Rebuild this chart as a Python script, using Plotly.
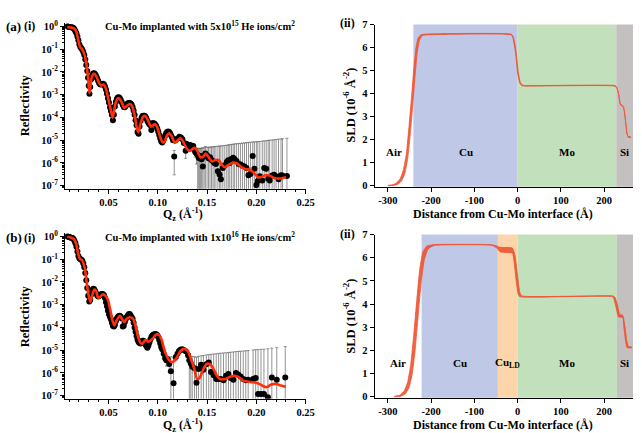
import plotly.graph_objects as go

# ---------------- Reflectivity (a): 5x10^15 ----------------
q_a_low = [0.0085, 0.0095, 0.0105, 0.0115, 0.0125, 0.0135, 0.0145, 0.0155, 0.0165, 0.0175,
           0.0185, 0.0195, 0.0205, 0.0215, 0.0225, 0.0235, 0.0245, 0.0255, 0.0265, 0.0275,
           0.0285, 0.0293, 0.0300, 0.0307, 0.0315, 0.0325, 0.0335, 0.0345, 0.0355, 0.0365,
           0.0375, 0.0385, 0.0395, 0.0405, 0.0415, 0.0425, 0.0435, 0.0445, 0.0455, 0.0465,
           0.0475, 0.0485, 0.0495, 0.0505, 0.0515, 0.0525, 0.0535, 0.0545, 0.0555, 0.0565,
           0.0575, 0.0585, 0.0595, 0.0605, 0.0615, 0.0625, 0.0635, 0.0645, 0.0655, 0.0665,
           0.0675, 0.0685, 0.0695, 0.0705, 0.0715, 0.0725, 0.0735, 0.0745, 0.0755, 0.0765,
           0.0775, 0.0785, 0.0795, 0.0805, 0.0815, 0.0825, 0.0835, 0.0845, 0.0855, 0.0865,
           0.0875, 0.0885, 0.0895, 0.0905, 0.0915, 0.0925, 0.0935, 0.0945, 0.0955, 0.0965,
           0.0975, 0.0985, 0.0995, 0.1005, 0.1015, 0.1025, 0.1035, 0.1045, 0.1055, 0.1065,
           0.1075, 0.1085, 0.1095, 0.1105, 0.1115, 0.1125, 0.1135, 0.1145, 0.1155]
r_a_low = [1.0, 0.98, 0.95, 0.93, 0.92, 0.90, 0.85, 0.75, 0.62, 0.50,
           0.36, 0.25, 0.16, 0.125, 0.11, 0.095, 0.075, 0.055, 0.035, 0.020,
           0.011, 0.0055, 0.0025, 0.0011, 0.0022, 0.0048, 0.0072, 0.0085, 0.0088, 0.0080,
           0.0066, 0.0053, 0.0041, 0.0033, 0.0029, 0.0028, 0.0029, 0.0030, 0.0028, 0.0023,
           0.0017, 0.0011, 7.0e-4, 4.5e-4, 2.8e-4, 1.9e-4, 1.3e-4, 7.5e-5, 1.3e-4, 3.0e-4,
           4.8e-4, 6.5e-4, 7.6e-4, 7.8e-4, 7.0e-4, 5.8e-4, 4.6e-4, 3.6e-4, 2.9e-4, 2.8e-4,
           3.2e-4, 3.7e-4, 4.1e-4, 4.3e-4, 4.3e-4, 4.1e-4, 3.6e-4, 2.9e-4, 2.0e-4, 1.3e-4,
           7.5e-5, 4.5e-5, 2.3e-5, 1.9e-5, 4.0e-5, 7.0e-5, 9.5e-5, 1.15e-4, 1.2e-4, 1.2e-4,
           1.1e-4, 9.0e-5, 7.0e-5, 5.8e-5, 5.0e-5, 4.5e-5, 2.8e-5, 5.5e-5, 5.6e-5, 5.4e-5,
           4.8e-5, 4.2e-5, 3.3e-5, 2.4e-5, 1.7e-5, 1.2e-5, 9.0e-6, 8.0e-6, 9.5e-6, 1.2e-5,
           1.6e-5, 2.0e-5, 2.3e-5, 2.4e-5, 2.3e-5, 2.0e-5, 1.6e-5, 1.3e-5, 1.0e-5]

q_a_tail = [0.1167, 0.1180, 0.1200, 0.1220, 0.1235, 0.1250, 0.1265, 0.1283, 0.1290, 0.1305,
            0.1320, 0.1330, 0.1340, 0.1350, 0.1360, 0.1370, 0.1380, 0.1393, 0.1405, 0.1415,
            0.1425, 0.1435, 0.1445, 0.1457, 0.1470, 0.1483, 0.1500, 0.1515, 0.1530, 0.1545,
            0.1560, 0.1573, 0.1590, 0.1610, 0.1627, 0.1640, 0.1660, 0.1680, 0.1700, 0.1715,
            0.1730, 0.1747, 0.1765, 0.1780, 0.1800, 0.1820, 0.1840, 0.1860, 0.1880, 0.1900,
            0.1920, 0.1940, 0.1963, 0.1980, 0.2000, 0.2015, 0.2035, 0.2060, 0.2080, 0.2100,
            0.2120, 0.2135, 0.2160, 0.2180, 0.2200, 0.2225, 0.2250, 0.2265, 0.2310]
r_a_tail = [1.9e-6, 1.0e-5, 1.2e-5, 1.4e-5, 1.3e-5, 1.1e-5, 7.5e-6, 3.4e-6, 7.0e-6, 6.0e-6,
            5.0e-6, 6.2e-6, 5.4e-6, 4.6e-6, 5.5e-6, 3.8e-6, 3.0e-6, 2.6e-6, 2.2e-6, 1.7e-6,
            1.6e-6, 2.0e-6, 1.45e-6, 7.0e-7, 1.9e-6, 2.6e-6, 2.2e-6, 1.6e-6, 1.8e-6, 1.35e-6,
            1.2e-6, 1.0e-6, 9.0e-7, 4.3e-7, 3.1e-7, 1.9e-7, 6.0e-7, 8.0e-7, 1.1e-6, 1.3e-6,
            1.0e-6, 1.5e-6, 1.7e-6, 1.45e-6, 1.2e-6, 9.0e-7, 8.5e-7, 7.5e-7, 7.0e-7, 6.0e-7,
            2.9e-7, 3.3e-7, 2.0e-6, 5.5e-7, 1.07e-7, 1.6e-7, 2.6e-7, 1.7e-7, 6.0e-7, 5.5e-7,
            2.0e-7, 1.7e-7, 2.8e-7, 3.0e-7, 2.6e-7, 1.9e-7, 2.9e-7, 2.8e-7, 2.7e-7]
e_a_tail = [1.6e-6, 1.0e-6, 1.0e-6, 1.2e-6, 1.2e-6, 1.0e-6, 1.0e-6, 1.8e-6, 1.2e-6, 1.0e-6,
            1.0e-6, 1.0e-6, 1.0e-6, 1.0e-6, 1.0e-6, 1.0e-6, 1.2e-6, 1.7e-6, 2.3e-6, 2.6e-6,
            2.7e-6, 2.4e-6, 3.0e-6, 3.9e-6, 2.8e-6, 2.7e-6, 2.6e-6, 3.3e-6, 3.2e-6, 3.7e-6,
            3.9e-6, 4.2e-6, 4.4e-6, 5.0e-6, 5.2e-6, 5.4e-6, 5.1e-6, 5.0e-6, 4.9e-6, 4.9e-6,
            5.3e-6, 5.0e-6, 5.0e-6, 5.4e-6, 5.8e-6, 6.2e-6, 6.4e-6, 6.7e-6, 6.9e-6, 7.2e-6,
            7.7e-6, 7.8e-6, 6.4e-6, 7.8e-6, 8.4e-6, 8.5e-6, 8.5e-6, 8.9e-6, 8.7e-6, 9.0e-6,
            9.6e-6, 9.8e-6, 9.9e-6, 1.01e-5, 1.05e-5, 1.09e-5, 1.11e-5, 1.13e-5, 1.18e-5]

fit_q_a = [0.0083, 0.0117, 0.0150, 0.0173, 0.0193, 0.0210, 0.0233, 0.0260, 0.0283, 0.0297,
           0.0307, 0.0317, 0.0333, 0.0357, 0.0380, 0.0407, 0.0427, 0.0450, 0.0473, 0.0500,
           0.0523, 0.0543, 0.0573, 0.0600, 0.0627, 0.0660, 0.0693, 0.0717, 0.0740, 0.0767,
           0.0790, 0.0803, 0.0820, 0.0850, 0.0873, 0.0900, 0.0933, 0.0967, 0.0993, 0.1020,
           0.1047, 0.1067, 0.1093, 0.1117, 0.1143, 0.1173, 0.1207, 0.1233, 0.1260, 0.1293,
           0.1327, 0.1350, 0.1373, 0.1400, 0.1433, 0.1460, 0.1487, 0.1517, 0.1550, 0.1583,
           0.1617, 0.1650, 0.1683, 0.1717, 0.1767, 0.1800, 0.1833, 0.1883, 0.1933, 0.1983,
           0.2017, 0.2050, 0.2083, 0.2133, 0.2183, 0.2233, 0.2300]
fit_r_a = [0.935, 0.906, 0.82, 0.61, 0.267, 0.13, 0.0995, 0.0515, 0.0138, 3.7e-3,
           1.16e-3, 2.25e-3, 6.5e-3, 8.4e-3, 6.0e-3, 3.13e-3, 2.48e-3, 2.83e-3, 1.9e-3, 6.0e-4,
           2.24e-4, 9.8e-5, 4.3e-4, 7.1e-4, 5.45e-4, 2.64e-4, 3.44e-4, 3.92e-4, 3.11e-4, 1.16e-4,
           3.1e-5, 2.23e-5, 4.3e-5, 1.05e-4, 1.16e-4, 7.55e-5, 3.9e-5, 5.08e-5, 3.9e-5, 1.6e-5,
           8.3e-6, 8.3e-6, 1.6e-5, 2.02e-5, 1.45e-5, 7.5e-6, 1.04e-5, 1.23e-5, 8.3e-6, 4.3e-6,
           3.4e-6, 4.0e-6, 4.6e-6, 3.4e-6, 1.76e-6, 1.88e-6, 2.6e-6, 1.76e-6, 1.15e-6, 1.35e-6,
           1.35e-6, 8.2e-7, 6.5e-7, 8.2e-7, 1.04e-6, 9.7e-7, 7.5e-7, 5.4e-7, 5.0e-7, 3.4e-7,
           2.3e-7, 2.4e-7, 2.8e-7, 2.8e-7, 2.2e-7, 2.07e-7, 2.35e-7]

# ---------------- Reflectivity (b): 1x10^16 ----------------
q_b_low = [0.0085, 0.0095, 0.0105, 0.0115, 0.0125, 0.0135, 0.0145, 0.0155, 0.0165, 0.0175,
           0.0185, 0.0195, 0.0205, 0.0215, 0.0225, 0.0235, 0.0245, 0.0255, 0.0265, 0.0275,
           0.0285, 0.0295, 0.0305, 0.0315, 0.0325, 0.0335, 0.0345, 0.0355, 0.0365, 0.0375,
           0.0385, 0.0395, 0.0405, 0.0415, 0.0425, 0.0435, 0.0445, 0.0455, 0.0465, 0.0475,
           0.0485, 0.0495, 0.0505, 0.0515, 0.0525, 0.0535, 0.0545, 0.0555, 0.0565, 0.0575,
           0.0585, 0.0595, 0.0605, 0.0615, 0.0625, 0.0635, 0.0645, 0.0655, 0.0665, 0.0675,
           0.0685, 0.0695, 0.0705, 0.0715, 0.0725, 0.0735, 0.0745, 0.0755, 0.0765, 0.0775,
           0.0785, 0.0795, 0.0805, 0.0815, 0.0825, 0.0835, 0.0845, 0.0855, 0.0865, 0.0875,
           0.0885, 0.0895, 0.0905, 0.0915, 0.0925, 0.0935, 0.0945, 0.0955, 0.0965, 0.0975,
           0.0985, 0.0995, 0.1005, 0.1015, 0.1025, 0.1035]
r_b_low = [1.0, 0.97, 0.93, 0.90, 0.88, 0.85, 0.78, 0.65, 0.50, 0.35,
           0.22, 0.14, 0.11, 0.10, 0.095, 0.085, 0.065, 0.045, 0.025, 0.012,
           0.0055, 0.0025, 0.0014, 0.0016, 0.0028, 0.0042, 0.0050, 0.0048, 0.0040, 0.0032,
           0.0026, 0.0023, 0.0024, 0.0027, 0.0029, 0.0030, 0.0029, 0.0026, 0.0020, 0.0013,
           8.5e-4, 5.5e-4, 3.8e-4, 3.0e-4, 2.3e-4, 1.6e-4, 1.2e-4, 1.1e-4, 1.3e-4, 1.9e-4,
           2.5e-4, 2.9e-4, 3.2e-4, 3.3e-4, 3.0e-4, 2.5e-4, 1.1e-4, 1.2e-4, 1.7e-4, 2.3e-4,
           2.9e-4, 3.3e-4, 3.8e-4, 3.9e-4, 3.4e-4, 2.8e-4, 2.4e-4, 1.6e-4, 1.0e-4, 6.5e-5,
           4.2e-5, 2.9e-5, 2.3e-5, 2.1e-5, 2.0e-5, 2.3e-5, 2.6e-5, 2.6e-5, 2.3e-5, 1.9e-5,
           1.5e-5, 1.3e-5, 1.6e-5, 2.2e-5, 3.0e-5, 3.8e-5, 4.4e-5, 4.8e-5, 5.0e-5, 5.1e-5,
           5.0e-5, 4.6e-5, 3.8e-5, 2.8e-5, 2.0e-5, 1.4e-5]

q_b_tail = [0.1045, 0.1060, 0.1075, 0.1087, 0.1100, 0.1117, 0.1133, 0.1160, 0.1183, 0.1200,
            0.1215, 0.1230, 0.1245, 0.1260, 0.1283, 0.1307, 0.1320, 0.1335, 0.1350, 0.1373,
            0.1393, 0.1413, 0.1440, 0.1463, 0.1493, 0.1517, 0.1540, 0.1567, 0.1593, 0.1617,
            0.1640, 0.1667, 0.1693, 0.1717, 0.1740, 0.1767, 0.1793, 0.1817, 0.1840, 0.1867,
            0.1893, 0.1917, 0.1967, 0.1993, 0.2017, 0.2047, 0.2077, 0.2117, 0.2157, 0.2207,
            0.2293]
r_b_tail = [1.1e-5, 7.0e-6, 4.5e-6, 3.6e-6, 4.0e-6, 2.5e-6, 1.2e-6, 3.5e-7, 5.0e-6, 7.0e-6,
            9.0e-6, 1.05e-5, 1.1e-5, 1.05e-5, 9.0e-6, 6.0e-6, 3.6e-6, 2.6e-6, 1.9e-6, 1.6e-6,
            3.7e-7, 1.5e-6, 2.3e-6, 1.4e-6, 2.4e-6, 2.9e-6, 1.1e-6, 8.0e-7, 5.5e-7, 5.5e-7,
            5.5e-7, 4.8e-7, 7.5e-7, 9.0e-7, 6.0e-7, 5.0e-7, 1.0e-6, 8.5e-7, 7.0e-7, 5.5e-7,
            4.8e-7, 5.0e-7, 5.5e-7, 6.0e-7, 1.2e-7, 1.2e-7, 1.2e-7, 8.5e-8, 6.3e-7, 5.0e-7,
            6.3e-7]
e_b_tail = [1.0e-6, 1.0e-6, 1.0e-6, 1.6e-6, 1.2e-6, 1.4e-6, 4.0e-6, 4.3e-6, 1.5e-6, 1.5e-6,
            1.5e-6, 1.5e-6, 1.5e-6, 1.5e-6, 1.5e-6, 1.5e-6, 3.6e-6, 2.9e-6, 3.3e-6, 3.6e-6,
            4.6e-6, 3.9e-6, 3.4e-6, 4.5e-6, 3.8e-6, 3.5e-6, 5.5e-6, 6.0e-6, 6.4e-6, 6.7e-6,
            6.9e-6, 7.1e-6, 7.0e-6, 7.0e-6, 7.6e-6, 7.9e-6, 7.7e-6, 8.0e-6, 8.4e-6, 8.7e-6,
            9.0e-6, 9.2e-6, 9.7e-6, 9.9e-6, 1.05e-5, 1.08e-5, 1.1e-5, 1.15e-5, 1.17e-5, 1.25e-5,
            1.38e-5]

fit_q_b = [0.0083, 0.0117, 0.0150, 0.0173, 0.0193, 0.0210, 0.0233, 0.0260, 0.0280, 0.0300,
           0.0317, 0.0333, 0.0357, 0.0377, 0.0393, 0.0417, 0.0440, 0.0467, 0.0493, 0.0517,
           0.0540, 0.0560, 0.0583, 0.0617, 0.0640, 0.0660, 0.0683, 0.0717, 0.0750, 0.0773,
           0.0800, 0.0827, 0.0850, 0.0873, 0.0900, 0.0950, 0.0983, 0.1017, 0.1040, 0.1067,
           0.1100, 0.1133, 0.1167, 0.1200, 0.1233, 0.1267, 0.1307, 0.1333, 0.1367, 0.1400,
           0.1427, 0.1460, 0.1500, 0.1533, 0.1567, 0.1600, 0.1633, 0.1683, 0.1733, 0.1783,
           0.1827, 0.1867, 0.1917, 0.1967, 0.2017, 0.2060, 0.2100, 0.2150, 0.2200, 0.2250,
           0.2300]
fit_r_b = [0.97, 0.906, 0.77, 0.47, 0.174, 0.106, 0.09, 0.0395, 8.97e-3, 2.4e-3,
           1.33e-3, 2.4e-3, 4.64e-3, 3.94e-3, 2.04e-3, 2.25e-3, 2.83e-3, 2.56e-3, 1.73e-3, 6.4e-4,
           2.03e-4, 1.24e-4, 2.03e-4, 3.3e-4, 2.24e-4, 1.72e-4, 2.39e-4, 2.82e-4, 2.39e-4, 1.24e-4,
           3.9e-5, 2.02e-5, 2.02e-5, 2.8e-5, 2.38e-5, 3.3e-5, 4.9e-5, 4.6e-5, 2.8e-5, 1.04e-5,
           4.58e-6, 3.08e-6, 3.3e-6, 5.4e-6, 9.5e-6, 1.15e-5, 8.9e-6, 4.58e-6, 1.7e-6, 5.4e-7,
           6.3e-7, 1.45e-6, 2.53e-6, 2.37e-6, 1.45e-6, 7.5e-7, 5.4e-7, 5.4e-7, 6.8e-7, 7.5e-7,
           6.3e-7, 4.6e-7, 4.1e-7, 3.9e-7, 3.5e-7, 2.8e-7, 2.36e-7, 3.1e-7, 3.3e-7, 2.8e-7,
           2.5e-7]

# ---------------- SLD profiles (uncertainty band edges) ----------------
sld_a_up_d = [-300, -290, -280, -271, -264, -257, -251, -245, -240, -235, -230, -224, -212,
              -15, -10, -4, 1, 6, 11, 18, 225, 229, 233, 237, 241, 245, 249, 252, 255, 262]
sld_a_up_v = [0.02, 0.04, 0.12, 0.32, 0.7, 1.4, 2.6, 3.9, 5.1, 6.0, 6.42, 6.55, 6.585,
              6.585, 6.47, 5.9, 5.0, 4.5, 4.37, 4.35, 4.35, 4.28, 4.03, 3.57, 3.5, 3.42, 2.9, 2.35, 2.14, 2.13]
sld_a_lo_d = [-300, -287, -277, -268, -261, -254, -248, -242, -237, -232, -227, -220, -208,
              -15, -11, -5, 0, 5, 10, 18, 225, 230, 234, 238, 243, 246, 250, 253, 256, 262]
sld_a_lo_v = [0.0, 0.01, 0.06, 0.22, 0.52, 1.2, 2.3, 3.6, 4.8, 5.8, 6.32, 6.52, 6.555,
              6.555, 6.43, 5.8, 4.9, 4.45, 4.34, 4.325, 4.325, 4.22, 3.92, 3.5, 3.46, 3.3, 2.72, 2.25, 2.1, 2.1]

sld_b_up_d = [-285, -272, -262, -254, -247, -240, -233, -226, -219, -210, -196,
              -60, -50, -42, -12, -6, 0, 5, 10, 220, 225, 231, 236, 243, 248, 252, 256, 264]
sld_b_up_v = [0.02, 0.07, 0.26, 0.65, 1.4, 2.7, 4.2, 5.55, 6.25, 6.5, 6.565,
              6.565, 6.52, 6.45, 6.42, 6.1, 5.2, 4.5, 4.35, 4.35, 4.29, 3.95, 3.55, 3.52, 3.05, 2.45, 2.17, 2.15]
sld_b_lo_d = [-285, -270, -259, -251, -244, -237, -230, -223, -216, -207, -193,
              -60, -48, -40, -12, -8, -3, 1, 5, 220, 223, 228, 233, 243, 246, 250, 253, 264]
sld_b_lo_v = [0.0, 0.02, 0.14, 0.4, 0.95, 2.0, 3.5, 4.95, 5.9, 6.38, 6.53,
              6.535, 6.42, 6.25, 6.2, 5.8, 4.95, 4.45, 4.32, 4.32, 4.2, 3.82, 3.44, 3.42, 2.92, 2.35, 2.12, 2.11]

# layer regions (names and boundaries in Å)
regions_a = ["Air", "Cu", "Mo", "Si"]
bounds_a = [-330.5, -241, 0, 228, 266.7]
regions_b = ["Air", "Cu", "Cu<sub>LD</sub>", "Mo", "Si"]
bounds_b = [-330.5, -222, -45.6, 0, 229.5, 266.7]

refl_ticks = [1, 1e-1, 1e-2, 1e-3, 1e-4, 1e-5, 1e-6, 1e-7]
refl_ticktext = ["10<sup>0</sup>", "10<sup>-1</sup>", "10<sup>-2</sup>", "10<sup>-3</sup>",
                 "10<sup>-4</sup>", "10<sup>-5</sup>", "10<sup>-6</sup>", "10<sup>-7</sup>"]
q_ticks = [0.05, 0.10, 0.15, 0.20, 0.25]
q_ticktext = ["0.05", "0.10", "0.15", "0.20", "0.25"]
d_ticks = [-300, -200, -100, 0, 100, 200]
d_ticktext = ["-300", "-200", "-100", "0", "100", "200"]
sld_ticks = [0, 1, 2, 3, 4, 5, 6, 7]

# ---------------- styles ----------------
FONT = "Liberation Serif"
FIT_COLOR = "#ff2d0a"
SLD_COLOR = "rgb(240,82,48)"
SLD_FILL = "rgba(240,82,48,0.9)"
REGION_COLORS = {"Air": None, "Cu": "#bfc8e6", "Cu<sub>LD</sub>": "#fcd6aa",
                 "Mo": "#c2e0bb", "Si": "#c4c0c0"}
W, H = 642, 433

fig = go.Figure()


def add_refl(ql, rl, qt, rt, et, fq, fr, xa, ya):
    fig.add_trace(go.Scatter(x=ql, y=rl, mode="markers", xaxis=xa, yaxis=ya,
                             marker=dict(color="black", size=6), showlegend=False))
    fig.add_trace(go.Scatter(x=qt, y=rt, mode="markers", xaxis=xa, yaxis=ya,
                             marker=dict(color="black", size=6), showlegend=False,
                             error_y=dict(type="data", array=et, color="#666666",
                                          thickness=0.7, width=1.5)))
    fig.add_trace(go.Scatter(x=fq, y=fr, mode="lines", xaxis=xa, yaxis=ya, showlegend=False,
                             line=dict(color=FIT_COLOR, width=2.6, shape="spline", smoothing=0.7)))


def add_sld(dlo, vlo, dup, vup, xa, ya):
    fig.add_trace(go.Scatter(x=dlo, y=vlo, mode="lines", xaxis=xa, yaxis=ya, showlegend=False,
                             line=dict(color=SLD_COLOR, width=0.8, shape="spline", smoothing=0.4)))
    fig.add_trace(go.Scatter(x=dup, y=vup, mode="lines", xaxis=xa, yaxis=ya, showlegend=False,
                             fill="tonexty", fillcolor=SLD_FILL,
                             line=dict(color=SLD_COLOR, width=0.8, shape="spline", smoothing=0.4)))


add_refl(q_a_low, r_a_low, q_a_tail, r_a_tail, e_a_tail, fit_q_a, fit_r_a, "x", "y")
add_sld(sld_a_lo_d, sld_a_lo_v, sld_a_up_d, sld_a_up_v, "x2", "y2")
add_refl(q_b_low, r_b_low, q_b_tail, r_b_tail, e_b_tail, fit_q_b, fit_r_b, "x3", "y3")
add_sld(sld_b_lo_d, sld_b_lo_v, sld_b_up_d, sld_b_up_v, "x4", "y4")


def px_x(p):
    return p / W


def px_y(p):
    return 1 - p / H


tickfont = dict(family=FONT, size=10.5, color="black", weight="bold")
axis_common = dict(showline=True, linecolor="black", linewidth=1, ticks="outside",
                   ticklen=4, tickcolor="black", showgrid=False, zeroline=False,
                   tickfont=tickfont, mirror=False)

refl_x = dict(axis_common, range=[0.006, 0.25], tickmode="array", tickvals=q_ticks,
              ticktext=q_ticktext, domain=[px_x(66), px_x(310)],
              minor=dict(ticks="outside", ticklen=2, dtick=0.01, tick0=0, tickcolor="black"))
refl_y = dict(axis_common, type="log", range=[-7.13, 0.17], tickmode="array",
              tickvals=refl_ticks, ticktext=refl_ticktext,
              minor=dict(ticks="outside", ticklen=2, dtick="D1", tickcolor="black"))
sld_x = dict(axis_common, range=[-330.5, 266.7], tickmode="array", tickvals=d_ticks,
             ticktext=d_ticktext, domain=[px_x(380), 1.0])
sld_y = dict(axis_common, range=[-0.042, 7.0], tickmode="array", tickvals=sld_ticks)

fig.update_layout(
    width=W, height=H, margin=dict(l=0, r=0, t=0, b=0),
    paper_bgcolor="white", plot_bgcolor="white", showlegend=False,
    xaxis=dict(refl_x, anchor="y"),
    yaxis=dict(refl_y, anchor="x", domain=[px_y(188), px_y(18)]),
    xaxis2=dict(sld_x, anchor="y2"),
    yaxis2=dict(sld_y, anchor="x2", domain=[px_y(186), px_y(20)]),
    xaxis3=dict(refl_x, anchor="y3"),
    yaxis3=dict(refl_y, anchor="x3", domain=[px_y(403), px_y(233)]),
    xaxis4=dict(sld_x, anchor="y4"),
    yaxis4=dict(sld_y, anchor="x4", domain=[px_y(402), px_y(235)]),
)

shapes = []
annotations = []
lab_font = dict(family=FONT, size=11, color="black", weight="bold")
for names, bounds, xa, ya in [(regions_a, bounds_a, "x2", "y2"), (regions_b, bounds_b, "x4", "y4")]:
    for i, name in enumerate(names):
        col = REGION_COLORS[name]
        if col:
            shapes.append(dict(type="rect", xref=xa, yref=ya + " domain", x0=bounds[i], x1=bounds[i + 1],
                               y0=0, y1=1, fillcolor=col, line=dict(width=0), layer="below"))
        annotations.append(dict(xref=xa, yref=ya, x=(bounds[i] + bounds[i + 1]) / 2, y=1.45,
                                text=name, showarrow=False, font=lab_font))


def ann(x, y, text, size=12.5, angle=0, xanchor="center"):
    annotations.append(dict(xref="paper", yref="paper", x=px_x(x), y=px_y(y), text=text,
                            showarrow=False, textangle=angle, xanchor=xanchor, yanchor="middle",
                            font=dict(family=FONT, size=size, color="black", weight="bold")))


title_size = 12.5
for top, dose in [(0, "5x10<sup>15</sup>"), (216, "1x10<sup>16</sup>")]:
    ann(4, 22 + top, "(" + ("a" if top == 0 else "b") + ")", 13, xanchor="left")
    ann(22, 22 + top, "(i)", 12, xanchor="left")
    ann(352, 18 + top, "(ii)", 12)
    ann(203, 21 + top, "Cu-Mo implanted with " + dose + " He ions/cm<sup>2</sup>", 10.5)
    ann(25, 103 + top, "Reflectivity", title_size, angle=-90)
    ann(354, 103 + top, "SLD (10<sup>-6</sup> Å<sup>-2</sup>)", title_size, angle=-90)
    ann(186, 214 + top, "Q<sub>z</sub> (Å<sup>-1</sup>)", 12)
    ann(510, 214 + top, "Distance from Cu-Mo interface (Å)", 12)

fig.update_layout(shapes=shapes, annotations=annotations)
fig.write_html("out.html")
